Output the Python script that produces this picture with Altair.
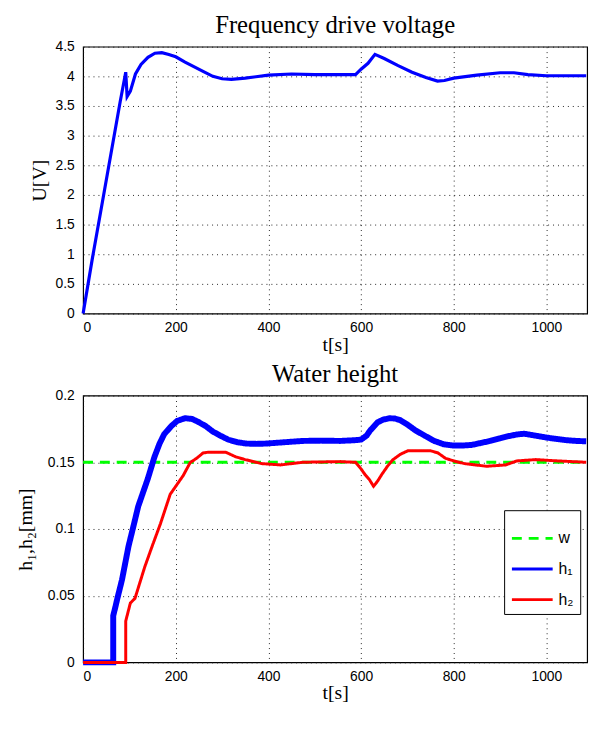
import altair as alt
import pandas as pd

T_MAX = 1088
x_ticks = [0, 200, 400, 600, 800, 1000]
u_ticks = [0, 0.5, 1, 1.5, 2, 2.5, 3, 3.5, 4, 4.5]
h_ticks = [0, 0.05, 0.1, 0.15, 0.2]

# Frequency drive voltage
t_u = [0, 20, 40, 60, 80, 92, 95, 102, 113, 125, 140, 155, 170, 185, 200, 220, 240, 260, 280, 300,
       320, 350, 400, 450, 500, 550, 588, 600, 615, 630, 650, 680, 710, 740, 765, 780, 800, 850, 900, 930,
       960, 1000, 1050, 1086]
u_vals = [0, 0.93, 1.81, 2.69, 3.57, 4.07, 3.66, 3.75, 4.04, 4.2, 4.32, 4.39, 4.4, 4.37, 4.33, 4.24, 4.16, 4.08, 4.0, 3.96,
          3.95, 3.97, 4.02, 4.04, 4.03, 4.03, 4.03, 4.12, 4.22, 4.37, 4.3, 4.18, 4.07, 3.98, 3.92, 3.93, 3.97, 4.02, 4.06, 4.06,
          4.03, 4.01, 4.01, 4.01]

# Water height h1
t_h1 = [0, 65, 65, 70, 74, 84, 98, 110, 119, 130, 140, 154, 165, 175, 190, 203, 220, 235, 250, 265,
        280, 296, 313, 333, 353, 374, 394, 434, 474, 514, 555, 585, 600, 612, 620, 628, 636, 648, 661, 673,
        685, 701, 717, 737, 758, 778, 798, 818, 839, 859, 879, 900, 920, 936, 952, 976, 1001, 1021, 1041, 1064,
        1086]
h1_vals = [0, 0, 0.035, 0.042, 0.048, 0.062, 0.087, 0.104, 0.117, 0.128, 0.138, 0.154, 0.164, 0.171, 0.177, 0.181, 0.183, 0.1825, 0.180, 0.177,
           0.173, 0.170, 0.167, 0.165, 0.164, 0.1638, 0.164, 0.165, 0.166, 0.1662, 0.166, 0.1665, 0.167, 0.170, 0.174, 0.177, 0.180, 0.182, 0.183, 0.1828,
           0.1815, 0.178, 0.174, 0.170, 0.166, 0.1635, 0.1626, 0.1625, 0.163, 0.1645, 0.166, 0.168, 0.1697, 0.1708, 0.1714, 0.170, 0.1685, 0.1675, 0.1666, 0.166,
           0.1657]

# Water height h2
t_h2 = [0, 92, 92, 102, 112, 133, 150, 167, 188, 200, 216, 231, 245, 259, 270, 308, 330, 350, 385, 426,
        474, 555, 588, 600, 608, 618, 627, 636, 645, 657, 669, 685, 701, 750, 766, 782, 800, 823, 871, 912,
        936, 977, 1025, 1086]
h2_vals = [0, 0, 0.031, 0.0445, 0.048, 0.0715, 0.088, 0.104, 0.126, 0.132, 0.140, 0.1497, 0.153, 0.157, 0.1575, 0.1575, 0.154, 0.152, 0.149, 0.148,
           0.150, 0.1505, 0.150, 0.145, 0.141, 0.137, 0.132, 0.136, 0.141, 0.147, 0.152, 0.156, 0.1586, 0.1586, 0.157, 0.153, 0.151, 0.149, 0.147, 0.148,
           0.151, 0.152, 0.151, 0.150]

# Reference w
t_w = [0, 1088]
w_vals = [0.15, 0.15]

series_names = ["w", "h\u2081", "h\u2082"]
series_colors = ["#00ff00", "#0000ff", "#ff0000"]
series_dash = [[10, 7], [1, 0], [1, 0]]

df_u = pd.DataFrame({"t": t_u, "U": u_vals, "i": range(len(t_u))})


def mk(ts, vs, name):
    return pd.DataFrame({"t": ts, "h": vs, "series": name, "i": range(len(ts))})


df_w = mk(t_w, w_vals, series_names[0])
df_h1 = mk(t_h1, h1_vals, series_names[1])
df_h2 = mk(t_h2, h2_vals, series_names[2])

W, H = 510, 270
GAP_SPACING = 6

x_enc = alt.X("t:Q", scale=alt.Scale(domain=[0, T_MAX], nice=False, zero=False),
              axis=alt.Axis(values=x_ticks, title="t[s]", labelExpr="'' + datum.value"))

top = alt.Chart(df_u).mark_line(color="#0000ff", strokeWidth=3.2).encode(
    x=x_enc,
    y=alt.Y("U:Q", scale=alt.Scale(domain=[0, 4.5], nice=False),
            axis=alt.Axis(values=u_ticks, title="U[V]", labelExpr="'' + datum.value", titlePadding=6)),
    order="i:Q",
).properties(width=W, height=H, title="Frequency drive voltage")

color_scale = alt.Scale(domain=series_names, range=series_colors)
dash_scale = alt.Scale(domain=series_names, range=series_dash)
legend = alt.Legend(title=None, orient="none", legendX=426, legendY=469)

y_h = alt.Y("h:Q", scale=alt.Scale(domain=[0, 0.2], nice=False),
            axis=alt.Axis(values=h_ticks, title="h\u2081,h\u2082[mm]", labelExpr="'' + datum.value", titlePadding=12))


def layer(df, sw):
    return alt.Chart(df).mark_line(strokeWidth=sw).encode(
        x=x_enc,
        y=y_h,
        color=alt.Color("series:N", scale=color_scale, legend=legend),
        strokeDash=alt.StrokeDash("series:N", scale=dash_scale, legend=legend),
        order="i:Q",
    )


bottom = alt.layer(
    layer(df_w, 3), layer(df_h1, 6), layer(df_h2, 3)
).properties(width=W, height=H, title="Water height")

chart = alt.vconcat(top, bottom, spacing=GAP_SPACING).properties(
    padding={"left": 7, "top": 0, "right": 0, "bottom": 0}
).configure_view(
    stroke="black", strokeWidth=1.2
).configure_axis(
    domain=False, ticks=False, grid=True,
    gridColor="#111111", gridDash=[1, 4], gridOpacity=0.9, gridWidth=1,
    labelFont="Liberation Sans", labelFontSize=14, labelColor="black", labelPadding=9,
    titleFont="Liberation Serif", titleFontSize=20, titleFontWeight="normal", titleColor="black",
).configure_axisX(
    labelPadding=7, titlePadding=0
).configure_title(
    font="Liberation Serif", fontSize=25, fontWeight="normal", color="black", anchor="middle", offset=2
).configure_legend(
    fillColor="white", strokeColor="black", padding=6,
    symbolType="stroke", symbolSize=1700, symbolStrokeWidth=3,
    labelFont="Liberation Sans", labelFontSize=16, labelColor="black",
    rowPadding=-10,
)

chart.save("out.html", embed_options={"renderer": "svg", "actions": False})
